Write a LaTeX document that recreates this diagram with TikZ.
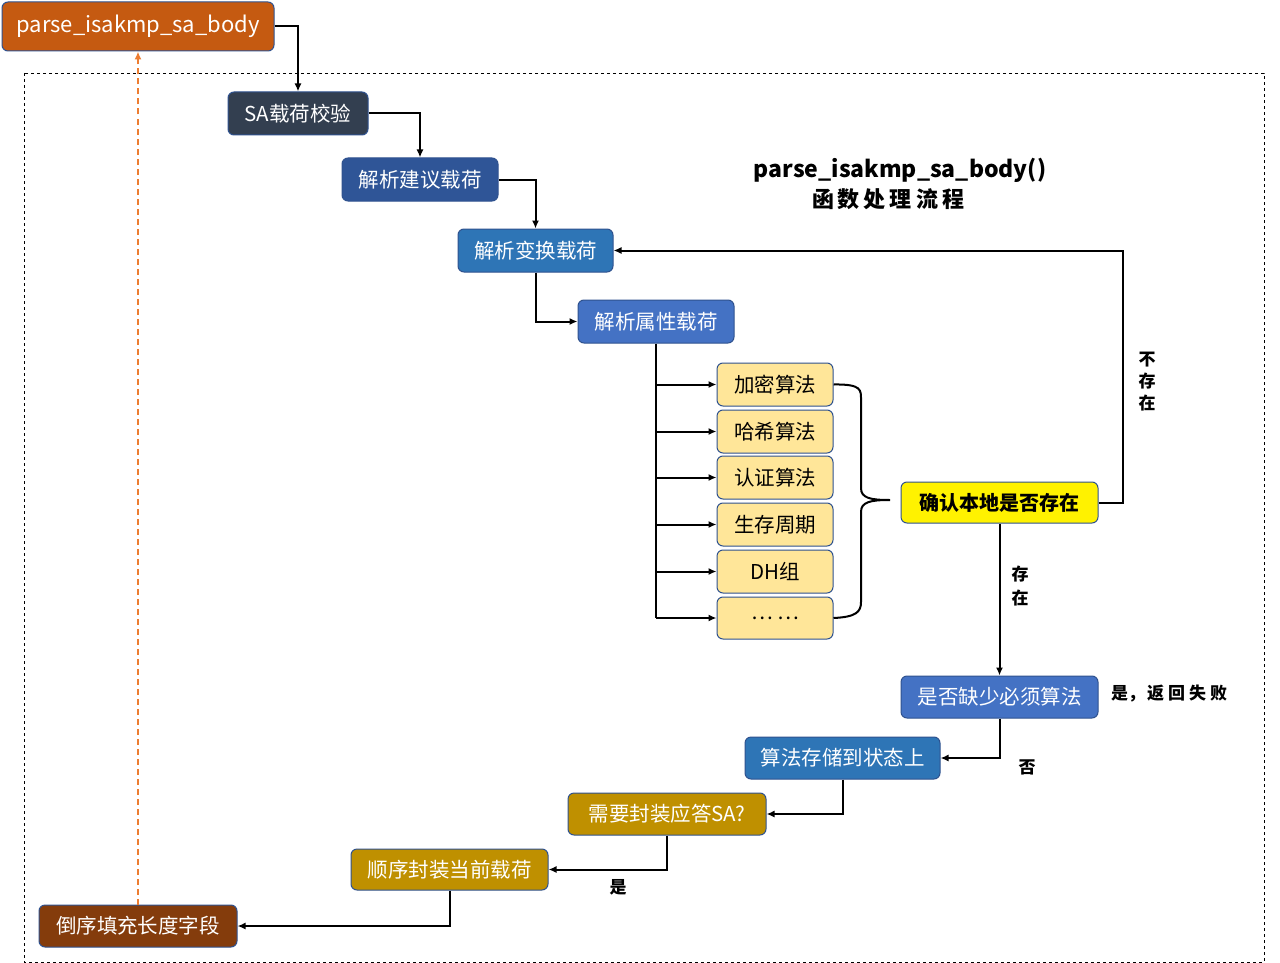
\documentclass[tikz,border=0pt]{standalone}
\usepackage{fontspec}
\setmainfont{Noto Sans CJK SC}
\usetikzlibrary{arrows.meta}
\definecolor{cparse}{HTML}{C55A11}
\definecolor{csa}{HTML}{333F50}
\definecolor{cjy}{HTML}{2F5597}
\definecolor{cbh}{HTML}{2E75B6}
\definecolor{csx}{HTML}{4472C4}
\definecolor{cattr}{HTML}{FFE699}
\definecolor{cgold}{HTML}{BF9000}
\definecolor{cbrown}{HTML}{843C0C}
\definecolor{cborder}{HTML}{2F528F}
\definecolor{corange}{HTML}{ED7D31}
\tikzset{
  box/.style={draw=cborder, line width=1pt, rounded corners=6pt, inner sep=0pt,
    font=\fontsize{20.5}{24}\selectfont, text=white},
  attr/.style={box, fill=cattr, text=black, minimum width=116pt, minimum height=43pt},
  conn/.style={line width=2pt, draw=black},
  arr/.style={conn, -{Latex[length=8pt,width=7pt]}},
  lbl/.style={font=\fontsize{17}{20}\selectfont\bfseries, text=black, inner sep=0pt},
}
\begin{document}
\begin{tikzpicture}[x=1pt,y=-1pt]
\useasboundingbox (0,0) rectangle (1280,963);
\fill[white] (0,0) rectangle (1280,963);
% frame
\draw[dashed, line width=0.8pt] (24,73) rectangle (1264,962);
% nodes
\node[box, fill=cparse, minimum width=272pt, minimum height=49pt, font=\fontsize{22}{26}\selectfont] (parse) at (138,26.5) {parse\_isakmp\_sa\_body};
\node[box, fill=csa, minimum width=140pt, minimum height=43pt] (sa) at (298,113.5) {SA载荷校验};
\node[box, fill=cjy, minimum width=156pt, minimum height=43pt] (jy) at (420,179.5) {解析建议载荷};
\node[box, fill=cbh, minimum width=155pt, minimum height=43pt] (bh) at (535.5,250.5) {解析变换载荷};
\node[box, fill=csx, minimum width=156pt, minimum height=43pt] (sx) at (656,321.5) {解析属性载荷};
\node[attr] (a1) at (775,384.5) {加密算法};
\node[attr] (a2) at (775,431.5) {哈希算法};
\node[attr] (a3) at (775,477.5) {认证算法};
\node[attr] (a4) at (775,524.5) {生存周期};
\node[attr] (a5) at (775,571.5) {DH组};
\node[attr, minimum height=42pt] (a6) at (775,618) {… …};
\node[box, fill=yellow, text=black, font=\fontsize{20}{24}\selectfont\bfseries, minimum width=197pt, minimum height=41pt] (qr) at (999.5,502.5) {确认本地是否存在};
\node[box, fill=csx, minimum width=197pt, minimum height=42pt] (qs) at (999.5,697) {是否缺少必须算法};
\node[box, fill=cbh, minimum width=195pt, minimum height=42pt] (cc) at (842.5,758) {算法存储到状态上};
\node[box, fill=cgold, minimum width=198pt, minimum height=42pt] (xy) at (667,814) {需要封装应答SA?};
\node[box, fill=cgold, minimum width=197pt, minimum height=41pt] (sq) at (449.5,869.5) {顺序封装当前载荷};
\node[box, fill=cbrown, minimum width=198pt, minimum height=42pt] (dx) at (138,926) {倒序填充长度字段};
% title
\node[font=\fontsize{23}{26}\selectfont\bfseries, inner sep=0pt] (t1) at (900,170) {parse\_isakmp\_sa\_body()};
\node[font=\fontsize{22}{26}\selectfont\bfseries, inner sep=0pt] (t2) at (888,199) {函\hspace{4pt}数\hspace{4pt}处\hspace{4pt}理\hspace{4pt}流\hspace{4pt}程};
% connectors
\draw[arr] (parse.east) -| (sa.north);
\draw[arr] (sa.east) -| (jy.north);
\draw[arr] (jy.east) -| (bh.north);
\draw[arr] (bh.south) |- (sx.west);
\draw[conn] (sx.south) -- (sx.south |- a6.west);
\foreach \n in {a1,a2,a3,a4,a5,a6}{
  \draw[arr] (sx.south |- \n.west) -- (\n.west);
}
% brace
\coordinate (tip) at (890,500);
\draw[conn] (a1.east) .. controls (862,384) and (861,390) .. (861,400) -- (861,488)
  .. controls (861,498) and (870,500) .. (tip)
  .. controls (870,500) and (861,502) .. (861,512) -- (861,602)
  .. controls (861,612) and (856,617) .. (a6.east);
\draw[arr] (qr.east) -- ++(24,0) |- (bh.east);
\draw[arr] (qr.south) -- (qs.north);
\draw[arr] (qs.south) |- (cc.east);
\draw[arr] (cc.south) |- (xy.east);
\draw[arr] (xy.south) |- (sq.east);
\draw[arr] (sq.south) |- (dx.east);
\draw[corange, line width=1.8pt, dash pattern=on 6pt off 4pt, -{Latex[length=8pt,width=7pt]}] (dx.north) -- (parse.south);
% labels
\node[lbl, align=center] (l1) at (1147,382) {不\\[2pt]存\\[2pt]在};
\node[lbl, align=center] (l2) at (1020,586) {存\\[4pt]在};
\node[lbl, anchor=west] (l3) at (1111,694) {是，\hspace{2pt}返\hspace{4pt}回\hspace{4pt}失\hspace{4pt}败};
\node[lbl] (l4) at (1027,767) {否};
\node[lbl] (l5) at (618,887) {是};
\end{tikzpicture}
\end{document}
